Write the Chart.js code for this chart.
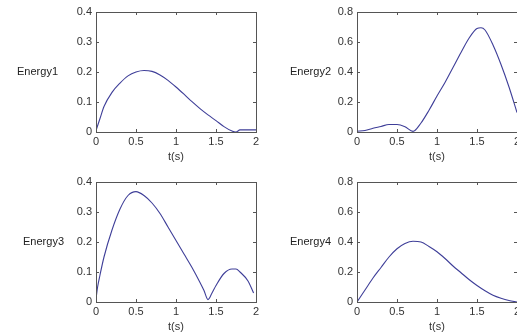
<!DOCTYPE html>
<html>
<head>
<meta charset="utf-8">
<script src="https://cdn.jsdelivr.net/npm/chart.js@4"></script>
<style>
  html, body { margin: 0; padding: 0; background: #fff; overflow: hidden; width: 517px; height: 335px; }
  .panel { position: absolute; width: 270px; height: 170px; }
</style>
</head>
<body>
<div class="panel" style="left:0px;top:0px"><canvas id="c1"></canvas></div>
<div class="panel" style="left:261px;top:0px"><canvas id="c2"></canvas></div>
<div class="panel" style="left:0px;top:170px"><canvas id="c3"></canvas></div>
<div class="panel" style="left:261px;top:170px"><canvas id="c4"></canvas></div>
<script>
var xTicks = [0, 0.5, 1, 1.5, 2];

var t1 = [0, 0.05, 0.1, 0.2, 0.3, 0.4, 0.5, 0.6, 0.7, 0.8, 0.9, 1.0, 1.1, 1.2, 1.3, 1.4, 1.5, 1.6, 1.7, 1.75, 1.8, 1.9, 2.0];
var energy1 = [0.005, 0.045, 0.085, 0.132, 0.163, 0.187, 0.2, 0.205, 0.202, 0.19, 0.172, 0.15, 0.126, 0.101, 0.078, 0.057, 0.038, 0.018, 0.003, 0.0, 0.007, 0.007, 0.007];

var t2 = [0, 0.1, 0.2, 0.3, 0.4, 0.5, 0.6, 0.7, 0.8, 0.9, 1.0, 1.1, 1.2, 1.3, 1.4, 1.5, 1.55, 1.6, 1.7, 1.8, 1.9, 2.0];
var energy2 = [0.005, 0.01, 0.025, 0.037, 0.05, 0.05, 0.035, 0.004, 0.06, 0.145, 0.24, 0.33, 0.43, 0.53, 0.625, 0.69, 0.695, 0.68, 0.58, 0.45, 0.3, 0.13];

var t3 = [0, 0.02, 0.05, 0.1, 0.2, 0.3, 0.4, 0.5, 0.6, 0.7, 0.8, 0.9, 1.0, 1.1, 1.2, 1.3, 1.35, 1.4, 1.45, 1.5, 1.6, 1.7, 1.75, 1.8, 1.9, 1.97];
var energy3 = [0.01, 0.05, 0.09, 0.15, 0.24, 0.31, 0.355, 0.368, 0.355, 0.33, 0.295, 0.25, 0.205, 0.16, 0.115, 0.065, 0.038, 0.008, 0.03, 0.055, 0.095, 0.11, 0.11, 0.1, 0.07, 0.03];

var t4 = [0, 0.1, 0.2, 0.3, 0.4, 0.5, 0.6, 0.7, 0.8, 0.9, 1.0, 1.1, 1.2, 1.3, 1.4, 1.5, 1.6, 1.7, 1.8, 1.9, 2.0];
var energy4 = [0, 0.08, 0.16, 0.23, 0.3, 0.355, 0.39, 0.405, 0.4, 0.37, 0.335, 0.29, 0.24, 0.195, 0.15, 0.11, 0.075, 0.045, 0.025, 0.01, 0];

var font = { family: "'Liberation Sans', Arial, sans-serif", size: 11 };

// matlab style box with inward ticks, plus the horizontal y label
var boxPlugin = {
  id: 'box',
  afterDraw: function(chart) {
    var ctx = chart.ctx, a = chart.chartArea;
    var xs = chart.scales.x, ys = chart.scales.y;
    var opts = chart.options.plugins.box;
    ctx.save();
    ctx.strokeStyle = '#555';
    ctx.lineWidth = 1;
    ctx.strokeRect(Math.round(a.left) + 0.5, Math.round(a.top) + 0.5, Math.round(a.right - a.left), Math.round(a.bottom - a.top));
    ctx.beginPath();
    xs.ticks.forEach(function(tk) {
      var px = Math.round(xs.getPixelForValue(tk.value)) + 0.5;
      ctx.moveTo(px, a.bottom); ctx.lineTo(px, a.bottom - 3);
      ctx.moveTo(px, a.top); ctx.lineTo(px, a.top + 3);
    });
    ys.ticks.forEach(function(tk) {
      var py = Math.round(ys.getPixelForValue(tk.value)) + 0.5;
      ctx.moveTo(a.left, py); ctx.lineTo(a.left + 3, py);
      ctx.moveTo(a.right, py); ctx.lineTo(a.right - 3, py);
    });
    ctx.stroke();
    ctx.fillStyle = '#222';
    ctx.font = "11px 'Liberation Sans', Arial, sans-serif";
    ctx.textAlign = 'right';
    ctx.textBaseline = 'middle';
    ctx.fillText(opts.label, a.left - opts.gap, (a.top + a.bottom) / 2);
    ctx.restore();
  }
};

function makePanel(id, t, values, yMax, yStep, label, gap) {
  var pts = t.map(function(x, i) { return { x: x, y: values[i] }; });
  new Chart(id, {
    type: 'line',
    data: {
      datasets: [{
        data: pts,
        borderColor: '#3e3e98',
        borderWidth: 1.1,
        pointRadius: 0,
        cubicInterpolationMode: 'monotone',
        fill: false
      }]
    },
    options: {
      responsive: true,
      maintainAspectRatio: false,
      animation: false,
      layout: { padding: { top: 12, right: 14, left: 0, bottom: 6 } },
      plugins: { legend: { display: false }, tooltip: { enabled: false }, box: { label: label, gap: gap } },
      scales: {
        x: {
          type: 'linear', min: 0, max: 2,
          afterBuildTicks: function(scale) { scale.ticks = xTicks.map(function(v) { return { value: v }; }); },
          afterFit: function(scale) { scale.height = 32; },
          grid: { display: false, drawTicks: false },
          border: { display: false },
          ticks: { color: '#333', font: font, padding: 3, maxRotation: 0,
                   callback: function(v) { return String(v); } },
          title: { display: true, text: 't(s)', color: '#333', font: font, padding: { top: 2, bottom: 0 } }
        },
        y: {
          min: 0, max: yMax,
          afterFit: function(scale) { scale.width = 96; },
          grid: { display: false, drawTicks: false },
          border: { display: false },
          ticks: { color: '#333', font: font, stepSize: yStep, padding: 4,
                   callback: function(v) { return String(Math.round(v * 10) / 10); } }
        }
      }
    },
    plugins: [boxPlugin]
  });
}

makePanel('c1', t1, energy1, 0.4, 0.1, 'Energy1', 38);
makePanel('c2', t2, energy2, 0.8, 0.2, 'Energy2', 26);
makePanel('c3', t3, energy3, 0.4, 0.1, 'Energy3', 32);
makePanel('c4', t4, energy4, 0.8, 0.2, 'Energy4', 26);
</script>
</body>
</html>
